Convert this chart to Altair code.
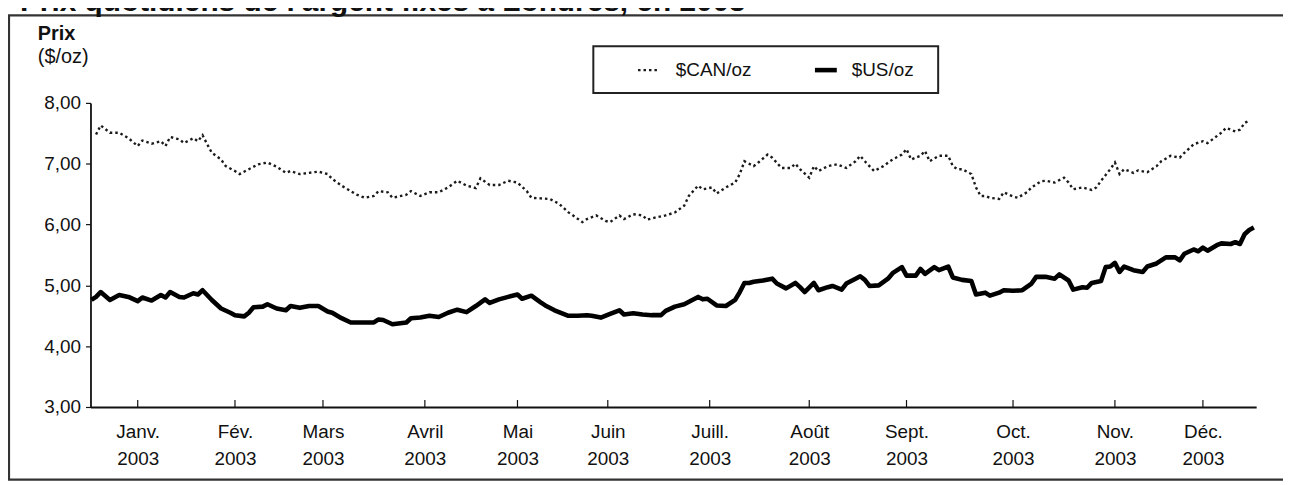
import altair as alt
import pandas as pd

TITLE = "Prix quotidiens de l'argent fixés à Londres, en 2003"
Y_TITLE_1 = "Prix"
Y_TITLE_2 = "($/oz)"
SERIES = ["$CAN/oz", "$US/oz"]

# trading-day index (0 = first fixing of 2003) and price
can_days = [1, 2, 4, 6, 8, 10, 11, 13, 15, 16, 17, 19, 20, 22, 23, 24, 25, 26, 28, 29,
            31, 32, 34, 36, 38, 40, 42, 43, 45, 47, 49, 51, 52, 54, 56, 57, 59, 61, 62, 64,
            65, 68, 69, 71, 73, 75, 77, 79, 81, 83, 84, 86, 88, 90, 92, 94, 95, 97, 99, 101,
            103, 104, 106, 107, 109, 111, 112, 114, 115, 117, 119, 120, 122, 124, 126, 128, 129, 131, 132, 134,
            135, 137, 139, 140, 141, 143, 144, 146, 147, 149, 151, 152, 153, 155, 156, 157, 159, 161, 163, 165,
            166, 167, 169, 171, 173, 175, 176, 177, 179, 180, 181, 183, 185, 186, 187, 188, 190, 191, 192, 193,
            194, 196, 197, 199, 200, 202, 203, 205, 206, 208, 210, 211, 212, 214, 216, 217, 218, 220, 221, 222,
            223, 225, 226, 228, 230, 231, 233, 235, 236, 238, 240, 241, 244, 245, 247, 248, 249, 250]
can_vals = [7.48, 7.63, 7.51, 7.51, 7.42, 7.29, 7.38, 7.33, 7.37, 7.29, 7.44, 7.40, 7.34, 7.42, 7.37, 7.47, 7.32, 7.18, 7.07, 6.96,
            6.88, 6.83, 6.91, 6.99, 7.02, 6.95, 6.85, 6.88, 6.83, 6.85, 6.87, 6.83, 6.75, 6.64, 6.55, 6.50, 6.44, 6.47, 6.55, 6.53,
            6.44, 6.49, 6.55, 6.47, 6.53, 6.53, 6.61, 6.72, 6.64, 6.60, 6.76, 6.65, 6.65, 6.72, 6.69, 6.55, 6.44, 6.43, 6.42, 6.34,
            6.20, 6.15, 6.04, 6.09, 6.15, 6.06, 6.04, 6.15, 6.09, 6.17, 6.15, 6.08, 6.12, 6.15, 6.20, 6.31, 6.47, 6.64, 6.58, 6.61,
            6.51, 6.61, 6.69, 6.83, 7.04, 6.96, 7.02, 7.15, 7.10, 6.93, 6.93, 7.00, 6.91, 6.77, 6.96, 6.88, 6.96, 6.99, 6.93, 7.04,
            7.13, 7.04, 6.88, 6.96, 7.07, 7.15, 7.24, 7.07, 7.13, 7.21, 7.04, 7.13, 7.13, 6.96, 6.91, 6.91, 6.83, 6.61, 6.47, 6.47,
            6.44, 6.42, 6.53, 6.46, 6.44, 6.53, 6.61, 6.71, 6.72, 6.69, 6.77, 6.69, 6.58, 6.61, 6.57, 6.61, 6.72, 6.91, 7.02, 6.83,
            6.91, 6.85, 6.89, 6.86, 6.96, 7.04, 7.13, 7.10, 7.18, 7.32, 7.37, 7.34, 7.51, 7.59, 7.53, 7.56, 7.67, 7.71]

us_days = [0, 1, 2, 4, 6, 8, 10, 11, 13, 15, 16, 17, 19, 20, 22, 23, 24, 26, 28, 30,
           31, 33, 34, 35, 37, 38, 40, 42, 43, 45, 47, 49, 51, 52, 54, 56, 59, 61, 62, 63,
           65, 68, 69, 71, 73, 75, 77, 79, 81, 83, 85, 86, 88, 90, 92, 93, 95, 97, 98, 100,
           103, 105, 107, 108, 110, 112, 114, 115, 117, 119, 121, 123, 124, 126, 128, 131, 132, 133, 135, 137,
           139, 140, 141, 142, 143, 145, 147, 148, 150, 152, 153, 154, 156, 157, 159, 160, 162, 163, 165, 166,
           167, 168, 170, 172, 173, 175, 176, 178, 179, 180, 182, 183, 185, 186, 188, 190, 191, 193, 194, 196,
           197, 199, 201, 203, 204, 206, 208, 209, 211, 212, 214, 215, 216, 218, 219, 220, 221, 222, 223, 225,
           227, 228, 230, 232, 234, 235, 236, 238, 239, 240, 241, 243, 244, 246, 247, 248, 249, 250, 251]
us_vals = [4.76, 4.81, 4.89, 4.76, 4.84, 4.81, 4.74, 4.80, 4.75, 4.84, 4.80, 4.89, 4.81, 4.80, 4.87, 4.85, 4.92, 4.76, 4.62, 4.55,
           4.51, 4.49, 4.55, 4.64, 4.65, 4.69, 4.62, 4.59, 4.66, 4.63, 4.66, 4.66, 4.57, 4.55, 4.46, 4.39, 4.39, 4.39, 4.44, 4.43,
           4.36, 4.39, 4.46, 4.47, 4.50, 4.48, 4.55, 4.60, 4.56, 4.66, 4.77, 4.71, 4.77, 4.81, 4.85, 4.78, 4.83, 4.72, 4.67, 4.59,
           4.50, 4.50, 4.51, 4.50, 4.47, 4.53, 4.59, 4.52, 4.54, 4.52, 4.51, 4.51, 4.58, 4.65, 4.69, 4.81, 4.77, 4.78, 4.67, 4.66,
           4.76, 4.89, 5.04, 5.04, 5.06, 5.08, 5.11, 5.03, 4.95, 5.04, 4.97, 4.89, 5.04, 4.92, 4.97, 4.99, 4.93, 5.03, 5.11, 5.15,
           5.09, 4.99, 5.00, 5.11, 5.20, 5.30, 5.16, 5.16, 5.27, 5.19, 5.30, 5.25, 5.31, 5.13, 5.09, 5.07, 4.85, 4.88, 4.83, 4.88,
           4.92, 4.91, 4.92, 5.03, 5.14, 5.14, 5.11, 5.18, 5.08, 4.93, 4.97, 4.96, 5.04, 5.07, 5.30, 5.31, 5.37, 5.22, 5.31, 5.25,
           5.22, 5.31, 5.36, 5.46, 5.46, 5.41, 5.52, 5.59, 5.56, 5.62, 5.57, 5.66, 5.69, 5.68, 5.71, 5.68, 5.84, 5.91, 5.95]

tick_days = [10, 31, 50, 72, 92, 111.5, 133.5, 155, 176, 199, 221, 240]
tick_months = ["Janv.", "Fév.", "Mars", "Avril", "Mai", "Juin", "Juill.", "Août",
               "Sept.", "Oct.", "Nov.", "Déc."]
tick_year = "2003"
y_ticks = [3.0, 3.5, 4.0, 4.5, 5.0, 5.5, 6.0, 6.5, 7.0, 7.5, 8.0]

FONT = "Liberation Sans"

can_df = pd.DataFrame({"day": can_days, "price": can_vals, "serie": SERIES[0]})
us_df = pd.DataFrame({"day": us_days, "price": us_vals, "serie": SERIES[1]})
tick_df = pd.DataFrame({"day": tick_days})
one = pd.DataFrame({"k": [0]})

months_js = "[" + ",".join("'%s'" % m for m in tick_months) + "]"
vals_js = "[" + ",".join(str(v) for v in tick_days) + "]"
label_expr = "[%s[indexof(%s, datum.value)], '%s']" % (months_js, vals_js, tick_year)

x_enc = alt.X("day:Q",
              scale=alt.Scale(domain=[-0.2, 251.5], nice=False, zero=False),
              axis=alt.Axis(values=tick_days, ticks=False, grid=False, title=None,
                            domainColor="#111", domainWidth=1.8,
                            labelExpr=label_expr, labelFontSize=19, labelColor="#111",
                            labelFont=FONT, labelPadding=16, labelLineHeight=27,
                            labelFlush=False, labelOverlap=False))
y_enc = alt.Y("price:Q",
              scale=alt.Scale(domain=[3, 8], nice=False, zero=False),
              axis=alt.Axis(values=y_ticks, grid=False, title=None,
                            labelExpr="replace(format(datum.value, '.2f'), '.', ',')",
                            tickSize=5, tickColor="#111", tickWidth=1.2,
                            domainColor="#111", domainWidth=1.8,
                            labelFontSize=19, labelColor="#111", labelFont=FONT,
                            labelPadding=5))

can_line = alt.Chart(can_df).mark_line(
    color="#1a1a1a", strokeWidth=2.4, strokeDash=[2.5, 3]
).encode(x=x_enc, y=y_enc)

us_line = alt.Chart(us_df).mark_line(
    color="#000000", strokeWidth=4.6, strokeJoin="round"
).encode(x="day:Q", y="price:Q")

inner_ticks = alt.Chart(tick_df).mark_rule(color="#111", strokeWidth=1.2).encode(
    x="day:Q", y=alt.value(306), y2=alt.value(299))

frame = alt.Chart(one).mark_rect(fill="white", fillOpacity=0, stroke="#333",
                                 strokeWidth=2.2).encode(
    x=alt.value(-82), x2=alt.value(1300), y=alt.value(-88), y2=alt.value(379))

title = alt.Chart(one).mark_text(text=TITLE, font=FONT, fontSize=30, fontWeight="bold",
                                 align="left", baseline="alphabetic", color="#111").encode(
    x=alt.value(-71), y=alt.value(-92))

ytitle1 = alt.Chart(one).mark_text(text=Y_TITLE_1, font=FONT, fontSize=20, fontWeight="bold",
                                   align="left", baseline="alphabetic", color="#111").encode(
    x=alt.value(-53), y=alt.value(-63))
ytitle2 = alt.Chart(one).mark_text(text=Y_TITLE_2, font=FONT, fontSize=20,
                                   align="left", baseline="alphabetic", color="#111").encode(
    x=alt.value(-53), y=alt.value(-40))

leg_box = alt.Chart(one).mark_rect(fill="white", stroke="#222", strokeWidth=2).encode(
    x=alt.value(506), x2=alt.value(853), y=alt.value(-57), y2=alt.value(-10))
leg_can = alt.Chart(one).mark_rule(color="#1a1a1a", strokeWidth=2.4, strokeDash=[2.5, 3]).encode(
    x=alt.value(551), x2=alt.value(572), y=alt.value(-33))
leg_us = alt.Chart(one).mark_rule(color="#000", strokeWidth=4.6).encode(
    x=alt.value(729), x2=alt.value(751), y=alt.value(-33))
leg_can_t = alt.Chart(one).mark_text(text=SERIES[0], font=FONT, fontSize=19, align="left",
                                     baseline="middle", color="#111").encode(
    x=alt.value(589), y=alt.value(-33))
leg_us_t = alt.Chart(one).mark_text(text=SERIES[1], font=FONT, fontSize=19, align="left",
                                    baseline="middle", color="#111").encode(
    x=alt.value(766), y=alt.value(-33))

chart = alt.layer(
    frame, can_line, us_line, inner_ticks, title, ytitle1, ytitle2,
    leg_box, leg_can, leg_us, leg_can_t, leg_us_t
).properties(
    width=1173, height=306,
    padding={"left": 83, "top": 94, "right": 27, "bottom": 77},
    autosize=alt.AutoSizeParams(type="none")
).configure(font=FONT, background="white").configure_view(strokeWidth=0, stroke="transparent")

chart.save("out.html", embed_options={"renderer": "svg", "actions": False})
